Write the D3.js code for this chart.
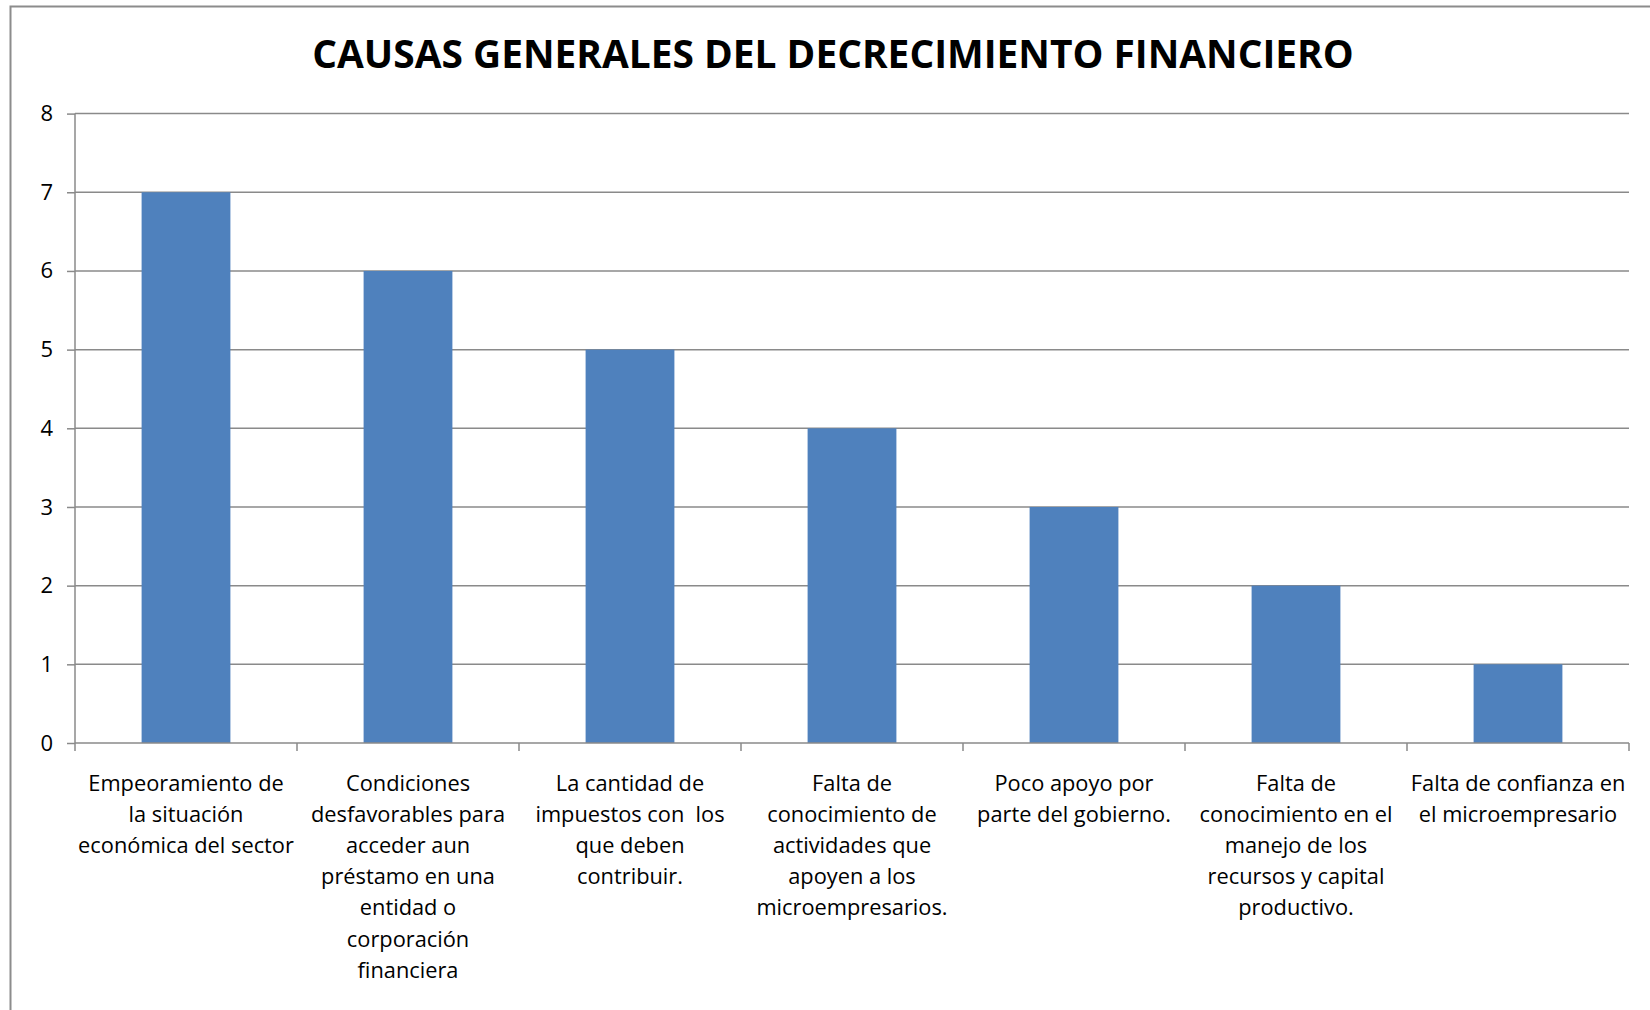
<!DOCTYPE html>
<html>
<head>
<meta charset="utf-8">
<script src="https://cdn.jsdelivr.net/npm/d3@7"></script>
<style>
  body { margin: 0; background: #fff; }
  svg { display: block; }
  text { font-family: "Open Sans", sans-serif; fill: #000; }
</style>
</head>
<body>
<div id="chart"><svg width="1650" height="1010"></svg></div>
<script>
// data
const title = "CAUSAS GENERALES DEL DECRECIMIENTO FINANCIERO";

const categories = [
  ["Empeoramiento de", "la situación", "económica del sector"],
  ["Condiciones", "desfavorables para", "acceder aun", "préstamo en una", "entidad o", "corporación", "financiera"],
  ["La cantidad de", "impuestos con  los", "que deben", "contribuir."],
  ["Falta de", "conocimiento de", "actividades que", "apoyen a los", "microempresarios."],
  ["Poco apoyo por", "parte del gobierno."],
  ["Falta de", "conocimiento en el", "manejo de los", "recursos y capital", "productivo."],
  ["Falta de confianza en", "el microempresario"]
];

const values = [7, 6, 5, 4, 3, 2, 1];

const yTicks = [0, 1, 2, 3, 4, 5, 6, 7, 8];

function Chart(config){
    var width = config.width,
        height = config.height,
        id = config.id,
        svg

    let margin = config.margin

    const innerW = width - margin.left - margin.right,
          innerH = height - margin.top - margin.bottom

    function chart(){
        initialize();
        drawFrame();
        drawChart();
    }

    const initialize = () => {
        svg = d3.select('#' + id).select('svg')
    }

    const drawFrame = () => {
        // outer chart border (only left and top are in view)
        svg.append('path')
            .attr('d', 'M10.5,1010 L10.5,6.5 L1650,6.5')
            .attr('fill', 'none')
            .attr('stroke', '#8c8c8c')
            .attr('stroke-width', 2)

        let t = svg.append('text')
            .attr('x', 833)
            .attr('y', 68)
            .attr('text-anchor', 'middle')
            .attr('font-weight', 700)
            .attr('font-size', 34)
            .text(title)
        // fit the title to the width it has in the picture
        let w = t.node().getComputedTextLength()
        t.attr('font-size', 34 * 1042 / w)
    }

    const drawChart = () => {
        const g = svg.append('g')
            .attr('transform', 'translate(' + margin.left + ',' + margin.top + ')')

        const x = d3.scaleBand()
            .domain(d3.range(categories.length))
            .range([0, innerW])
            .paddingInner(0.6)
            .paddingOuter(0.3)

        const xCat = d3.scaleBand()
            .domain(d3.range(categories.length))
            .range([0, innerW])

        const y = d3.scaleLinear()
            .domain([0, 8])
            .range([innerH, 0])

        // gridlines
        g.append('g')
            .selectAll('line')
            .data(yTicks.slice(1))
            .enter()
            .append('line')
            .attr('x1', 0)
            .attr('x2', innerW)
            .attr('y1', d => y(d))
            .attr('y2', d => y(d))
            .attr('stroke', '#8a8a8a')
            .attr('stroke-width', 1.5)

        // bars
        g.append('g')
            .selectAll('rect')
            .data(values)
            .enter()
            .append('rect')
            .attr('x', (d, i) => x(i))
            .attr('y', d => y(d))
            .attr('width', x.bandwidth())
            .attr('height', d => innerH - y(d))
            .attr('fill', '#4f81bd')

        // y axis
        const yAxis = g.append('g')
            .call(d3.axisLeft(y).tickValues(yTicks).tickSize(8).tickPadding(14))
        yAxis.selectAll('line, path').attr('stroke', '#8a8a8a').attr('stroke-width', 1.5)
        yAxis.select('.domain').attr('d', 'M0,' + y(8) + 'V' + innerH)
        yAxis.selectAll('text')
            .attr('font-size', 22)
            .attr('font-family', '"Open Sans", sans-serif')
            .attr('fill', '#000')

        // x axis: ticks on category boundaries
        const bounds = d3.range(categories.length + 1).map(i => i * xCat.step())
        const xAxis = g.append('g')
            .attr('transform', 'translate(0,' + innerH + ')')
        xAxis.append('line')
            .attr('x1', 0).attr('x2', innerW)
            .attr('stroke', '#8a8a8a').attr('stroke-width', 1.5)
        xAxis.selectAll('.tick')
            .data(bounds)
            .enter()
            .append('line')
            .attr('class', 'tick')
            .attr('x1', d => d).attr('x2', d => d)
            .attr('y1', 0).attr('y2', 8)
            .attr('stroke', '#8a8a8a').attr('stroke-width', 1.5)

        // wrapped category labels
        const lab = xAxis.selectAll('.cat')
            .data(categories)
            .enter()
            .append('text')
            .attr('class', 'cat')
            .attr('text-anchor', 'middle')
            .attr('font-size', 21.8)
            .style('white-space', 'pre')
            .attr('transform', (d, i) => 'translate(' + (xCat(i) + xCat.bandwidth() / 2) + ',47.5)')
        lab.selectAll('tspan')
            .data(d => d)
            .enter()
            .append('tspan')
            .attr('x', 0)
            .attr('y', (d, i) => i * 31.2)
            .text(d => d)
    }

    return chart;
}

const chart = Chart({
    id: 'chart',
    width: 1650,
    height: 1010,
    margin: {top: 113.6, bottom: 267, left: 75, right: 21}
});
chart();
</script>
</body>
</html>
